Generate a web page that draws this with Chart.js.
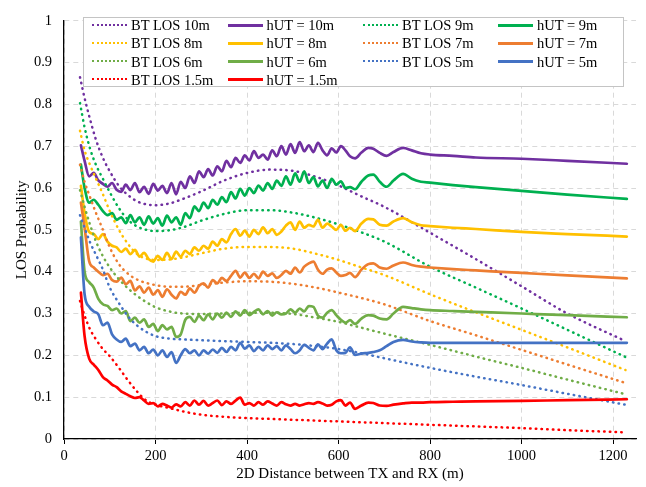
<!DOCTYPE html>
<html><head><meta charset="utf-8">
<script src="https://cdn.jsdelivr.net/npm/chart.js@4.4.0/dist/chart.umd.min.js"></script>
<style>
html,body{margin:0;padding:0;background:#fff;}
#wrap{position:relative;width:646px;height:487px;}
#legend{position:absolute;left:83px;top:17px;width:539px;height:68px;border:1.5px solid #c4c4c4;background:#fff;font-family:"Liberation Serif","Times New Roman",serif;font-size:14.5px;color:#000;}
.item{position:absolute;height:18px;line-height:18px;white-space:nowrap;}
.mk{position:absolute;width:35px;left:0;}
.txt{position:absolute;left:39px;top:0;}
</style></head>
<body><div id="wrap"><canvas id="c" width="646" height="487"></canvas><div id="legend"></div></div>
<script>
// distance grid (m) for the measured / simulated hUT curves
const xSolid = [37,45,55,65,75,85,95,105,115,125,
  135,145,155,165,175,185,195,205,215,225,
  235,245,255,265,275,285,295,305,315,325,
  335,345,355,365,375,385,395,405,415,425,
  435,445,455,465,475,485,495,505,515,525,
  535,545,555,565,575,585,595,605,615,625,
  636,650,665,676,690,705,720,741,760,780,
  800,850,900,1000,1100,1230];

const hut10 = [0.702,0.665,0.628,0.636,0.618,0.610,0.603,0.612,0.596,0.591,
  0.608,0.595,0.612,0.590,0.603,0.586,0.610,0.594,0.605,0.588,
  0.612,0.585,0.615,0.600,0.628,0.612,0.640,0.626,0.645,0.630,
  0.652,0.640,0.665,0.650,0.672,0.660,0.678,0.666,0.688,0.672,
  0.680,0.668,0.690,0.676,0.700,0.680,0.705,0.684,0.710,0.688,
  0.702,0.686,0.708,0.690,0.678,0.695,0.685,0.700,0.690,0.676,
  0.671,0.685,0.696,0.694,0.684,0.677,0.686,0.696,0.690,0.683,
  0.680,0.677,0.673,0.670,0.665,0.658];
const hut9 = [0.656,0.600,0.565,0.572,0.560,0.545,0.535,0.540,0.524,0.530,
  0.516,0.535,0.518,0.530,0.512,0.532,0.515,0.528,0.510,0.534,
  0.518,0.530,0.512,0.540,0.528,0.556,0.545,0.565,0.552,0.572,
  0.560,0.578,0.566,0.590,0.575,0.598,0.582,0.600,0.588,0.606,
  0.594,0.612,0.598,0.618,0.605,0.628,0.608,0.635,0.615,0.640,
  0.612,0.626,0.604,0.618,0.600,0.622,0.608,0.616,0.600,0.602,
  0.597,0.615,0.630,0.632,0.615,0.603,0.618,0.634,0.622,0.615,
  0.613,0.607,0.602,0.593,0.584,0.574];
const hut8 = [0.605,0.540,0.495,0.490,0.478,0.490,0.472,0.462,0.458,0.447,
  0.455,0.442,0.452,0.436,0.445,0.430,0.424,0.438,0.428,0.445,
  0.430,0.448,0.436,0.450,0.442,0.458,0.450,0.462,0.455,0.472,
  0.462,0.478,0.470,0.490,0.502,0.486,0.498,0.484,0.500,0.490,
  0.506,0.492,0.502,0.488,0.496,0.510,0.518,0.500,0.520,0.505,
  0.512,0.508,0.524,0.505,0.515,0.508,0.500,0.512,0.498,0.505,
  0.497,0.515,0.526,0.525,0.512,0.510,0.520,0.528,0.518,0.511,
  0.509,0.505,0.502,0.495,0.490,0.484];
const hut7 = [0.565,0.505,0.425,0.410,0.400,0.392,0.395,0.380,0.376,0.386,
  0.370,0.378,0.355,0.365,0.350,0.362,0.345,0.356,0.340,0.358,
  0.345,0.336,0.352,0.345,0.360,0.350,0.366,0.372,0.362,0.380,
  0.372,0.385,0.378,0.390,0.402,0.386,0.398,0.385,0.395,0.384,
  0.400,0.390,0.396,0.385,0.392,0.402,0.395,0.410,0.398,0.412,
  0.420,0.424,0.405,0.395,0.405,0.408,0.398,0.390,0.392,0.397,
  0.387,0.405,0.418,0.420,0.410,0.407,0.415,0.422,0.416,0.412,
  0.410,0.406,0.403,0.397,0.391,0.384];
const hut6 = [0.520,0.400,0.375,0.362,0.335,0.322,0.318,0.308,0.312,0.300,
  0.306,0.282,0.290,0.278,0.286,0.268,0.275,0.258,0.272,0.262,
  0.268,0.244,0.250,0.285,0.292,0.280,0.295,0.284,0.298,0.286,
  0.300,0.290,0.302,0.292,0.305,0.295,0.308,0.296,0.304,0.310,
  0.298,0.306,0.295,0.303,0.298,0.300,0.310,0.302,0.312,0.305,
  0.318,0.316,0.295,0.290,0.302,0.308,0.296,0.285,0.278,0.284,
  0.275,0.288,0.296,0.295,0.288,0.286,0.300,0.316,0.313,0.310,
  0.308,0.306,0.304,0.300,0.296,0.291];
const hut5 = [0.482,0.346,0.316,0.305,0.298,0.272,0.278,0.250,0.238,0.232,
  0.240,0.222,0.228,0.212,0.220,0.205,0.214,0.200,0.212,0.196,
  0.208,0.182,0.200,0.215,0.205,0.212,0.200,0.212,0.204,0.214,
  0.206,0.218,0.208,0.220,0.212,0.230,0.216,0.224,0.210,0.220,
  0.212,0.224,0.215,0.222,0.212,0.224,0.215,0.205,0.212,0.225,
  0.218,0.212,0.226,0.215,0.228,0.238,0.212,0.205,0.206,0.219,
  0.201,0.204,0.206,0.208,0.212,0.222,0.232,0.237,0.233,0.231,
  0.230,0.230,0.230,0.230,0.230,0.230];
const hut15 = [0.350,0.246,0.192,0.178,0.165,0.148,0.140,0.130,0.124,0.114,
  0.108,0.102,0.098,0.100,0.092,0.084,0.086,0.078,0.084,0.080,
  0.075,0.083,0.078,0.088,0.080,0.092,0.082,0.091,0.080,0.086,
  0.092,0.081,0.090,0.084,0.092,0.099,0.082,0.086,0.080,0.088,
  0.082,0.090,0.085,0.080,0.088,0.083,0.080,0.084,0.080,0.083,
  0.086,0.084,0.088,0.085,0.080,0.082,0.090,0.093,0.080,0.087,
  0.072,0.080,0.087,0.086,0.080,0.079,0.082,0.085,0.087,0.087,
  0.088,0.089,0.090,0.091,0.093,0.095];

// distance grid (m) for the BT LOS model curves
const xBT = [35,45,57,70,85,100,120,140,160,180,200,230,260,300,350,400,450,500,550,600,650,700,800,900,1000,1100,1227];
const bt10 = [0.865,0.815,0.764,0.715,0.672,0.640,0.605,0.583,0.568,0.561,0.559,0.563,0.574,0.592,0.618,0.636,0.644,0.641,0.627,0.606,0.580,0.555,0.493,0.430,0.365,0.300,0.234];
const bt9  = [0.803,0.745,0.694,0.655,0.622,0.590,0.552,0.524,0.508,0.500,0.497,0.499,0.506,0.522,0.538,0.547,0.547,0.541,0.529,0.513,0.494,0.472,0.412,0.362,0.312,0.261,0.196];
const bt8  = [0.737,0.690,0.655,0.622,0.585,0.545,0.500,0.466,0.442,0.431,0.428,0.429,0.434,0.444,0.455,0.459,0.459,0.455,0.443,0.428,0.410,0.392,0.346,0.303,0.261,0.219,0.165];
const bt7  = [0.656,0.615,0.578,0.540,0.500,0.458,0.418,0.395,0.381,0.373,0.368,0.364,0.364,0.368,0.374,0.377,0.376,0.371,0.362,0.350,0.337,0.322,0.282,0.248,0.213,0.178,0.134];
const bt6  = [0.595,0.555,0.512,0.472,0.437,0.410,0.382,0.360,0.342,0.327,0.315,0.305,0.300,0.299,0.300,0.302,0.302,0.299,0.290,0.280,0.266,0.252,0.225,0.197,0.170,0.142,0.107];
const bt5  = [0.535,0.505,0.470,0.440,0.405,0.362,0.325,0.293,0.271,0.256,0.246,0.240,0.238,0.236,0.234,0.232,0.230,0.227,0.222,0.215,0.205,0.193,0.170,0.149,0.129,0.108,0.082];
const bt15 = [0.330,0.295,0.262,0.238,0.215,0.198,0.170,0.140,0.113,0.092,0.082,0.074,0.066,0.058,0.053,0.050,0.048,0.046,0.044,0.042,0.040,0.038,0.034,0.030,0.026,0.021,0.016];

const heights = ['10m','9m','8m','7m','6m','5m','1.5m'];
const colors = ['#7030A0','#00B050','#FFC000','#ED7D31','#70AD47','#4472C4','#FF0000'];
const btSeries = [bt10,bt9,bt8,bt7,bt6,bt5,bt15];
const hutSeries = [hut10,hut9,hut8,hut7,hut6,hut5,hut15];

const FONT = '"Liberation Serif","Times New Roman",serif';

const datasets = [];
heights.forEach((h,i)=>{
  datasets.push({
    label:'BT LOS '+h, kind:'dot',
    data: xBT.map((x,j)=>({x:x,y:btSeries[i][j]})),
    borderColor: colors[i], backgroundColor: colors[i],
    borderWidth: 2.5, borderDash:[0.5,5.2], borderCapStyle:'round',
    pointRadius:0, cubicInterpolationMode:'monotone', fill:false, order: 20-2*i
  });
  datasets.push({
    label:'hUT = '+h, kind:'solid',
    data: xSolid.map((x,j)=>({x:x,y:hutSeries[i][j]})),
    borderColor: colors[i], backgroundColor: colors[i],
    borderWidth: 2.7, borderJoinStyle:'round', borderCapStyle:'round',
    pointRadius:0, cubicInterpolationMode:'monotone', fill:false, order: 19-2*i
  });
});

const chart = new Chart(document.getElementById('c'), {
  type:'line',
  data:{datasets:datasets},
  options:{
    responsive:false, animation:false, devicePixelRatio:1,
    layout:{padding:{left:9, top:8, right:10, bottom:0}},
    plugins:{legend:{display:false}, tooltip:{enabled:false}},
    scales:{
      x:{
        type:'linear', min:0, max:1250,
        ticks:{stepSize:200, includeBounds:false, color:'#000', padding:3, maxRotation:0, font:{family:FONT, size:14.5},
          callback:(v)=>String(v)},
        grid:{color:'#d9d9d9', lineWidth:1, drawTicks:true, tickLength:5, tickColor:'#000', tickWidth:1, tickBorderDash:[], borderDash:[5,4]},
        border:{display:true, color:'#000', width:1.3, dash:[5,4]},
        title:{display:true, text:'2D Distance between TX and RX (m)', color:'#000', font:{family:FONT, size:15}, padding:{top:0, bottom:4}},
        afterFit:(s)=>{ s.height = 48; }
      },
      y:{
        type:'linear', min:0, max:1,
        ticks:{stepSize:0.1, color:'#000', padding:12, font:{family:FONT, size:14.5},
          callback:(v)=>String(Math.round(v*10)/10)},
        grid:{color:'#d9d9d9', lineWidth:1, drawTicks:false, borderDash:[5,4]},
        border:{display:true, color:'#000', width:1.3, dash:[5,4]},
        title:{display:true, text:'LOS Probability', color:'#000', font:{family:FONT, size:15}, padding:{top:4, bottom:4}},
        afterFit:(s)=>{ s.width = 55; }
      }
    }
  }
});

// legend (4 columns), built from the datasets
const leg = document.getElementById('legend');
const colX = [8, 143.5, 279, 414];
const rowC = [7.3, 25.4, 43.5, 61.6];
datasets.forEach((ds,k)=>{
  const col = k % 4, row = Math.floor(k/4);
  const it = document.createElement('div');
  it.className = 'item';
  it.style.left = colX[col]+'px';
  it.style.top = (rowC[row]-9)+'px';
  const mk = document.createElement('div');
  mk.className = 'mk';
  if (ds.kind === 'dot') {
    mk.style.top = '7.8px'; mk.style.height='0';
    mk.style.borderTop = '2.5px dotted '+ds.borderColor;
  } else {
    mk.style.top = '7.5px'; mk.style.height='3px';
    mk.style.background = ds.borderColor;
  }
  const tx = document.createElement('span');
  tx.className = 'txt';
  tx.textContent = ds.label;
  it.appendChild(mk); it.appendChild(tx);
  leg.appendChild(it);
});
</script>
</body></html>
